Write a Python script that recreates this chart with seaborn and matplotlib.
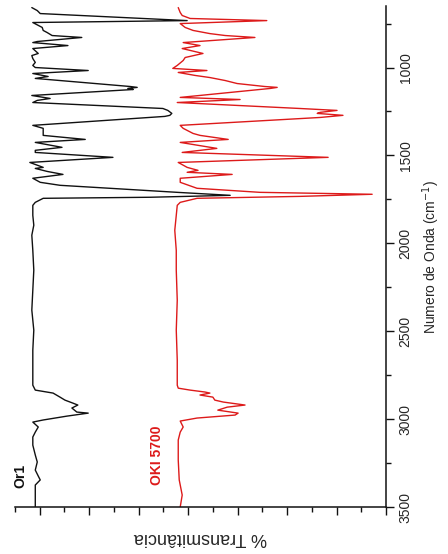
import numpy as np
import pandas as pd
import matplotlib
matplotlib.use("Agg")
import matplotlib.pyplot as plt
from matplotlib.ticker import MultipleLocator, NullFormatter
import seaborn as sns

# ---- data (wavenumber cm-1, % transmittance, offset spectra) ----
or1_wn = [659, 676, 693, 733, 744, 772, 789, 801, 818, 829, 852, 858, 875, 892, 920, 932, 949,
          971, 988, 1000, 1017, 1034, 1051, 1062, 1108, 1113, 1119, 1125, 1159, 1176, 1187, 1199,
          1233, 1244, 1261, 1272, 1278, 1329, 1346, 1386, 1409, 1426, 1454, 1471, 1483, 1511, 1540,
          1568, 1574, 1591, 1608, 1630, 1653, 1670, 1687, 1710, 1727, 1738, 1744, 1767, 1784, 1841,
          1897, 1954, 2040, 2153, 2267, 2380, 2494, 2608, 2721, 2807, 2835, 2852, 2875, 2892, 2909,
          2920, 2937, 2960, 2966, 2983, 3005, 3017, 3045, 3074, 3102, 3148, 3204, 3244, 3290, 3324,
          3346, 3375, 3432, 3500]
or1_t = [71.6, 70.5, 69.9, 40.2, 71.4, 69.5, 69.3, 68.5, 67.5, 61.5, 70.5, 71.4, 64.3, 71.4, 70.3,
         71.6, 71.4, 70.9, 71.4, 70.9, 60.2, 71.4, 68.3, 70.9, 51.7, 50.3, 52.2, 51.1, 71.6, 67.9,
         70.5, 71.4, 45.1, 44.1, 43.3, 43.7, 44.7, 71.4, 69.3, 69.3, 60.8, 70.9, 65.5, 70.9, 70.9,
         55.2, 72.0, 69.3, 70.9, 68.5, 65.3, 71.4, 69.9, 65.9, 55.8, 42.2, 31.5, 47.7, 69.3, 70.9,
         71.4, 71.4, 71.2, 71.6, 71.4, 71.2, 71.4, 71.6, 71.2, 71.4, 71.4, 71.4, 70.9, 67.3, 65.9,
         64.9, 63.3, 62.3, 63.5, 62.5, 60.2, 64.5, 69.3, 71.4, 70.3, 70.9, 71.4, 71.4, 70.9, 70.5,
         70.9, 70.3, 69.9, 70.9, 70.9, 70.9]

oki_wn = [659, 687, 704, 721, 733, 750, 772, 789, 807, 818, 829, 858, 875, 892, 920, 943, 960, 988,
          1005, 1017, 1028, 1045, 1057, 1074, 1091, 1108, 1113, 1119, 1170, 1182, 1199, 1233, 1244,
          1255, 1261, 1272, 1284, 1329, 1346, 1375, 1386, 1409, 1426, 1460, 1483, 1511, 1540, 1568,
          1585, 1596, 1608, 1630, 1653, 1687, 1710, 1721, 1733, 1744, 1767, 1784, 1841, 1926, 2040,
          2153, 2324, 2494, 2665, 2807, 2824, 2835, 2846, 2852, 2863, 2875, 2892, 2903, 2920, 2932,
          2949, 2966, 2977, 2994, 3011, 3045, 3074, 3119, 3233, 3346, 3432, 3500]
oki_t = [42.0, 41.6, 41.2, 39.6, 24.1, 41.6, 40.6, 39.0, 35.6, 32.5, 26.5, 41.0, 37.6, 41.2, 37.0,
         40.6, 41.0, 42.2, 43.1, 36.2, 42.0, 38.6, 35.6, 32.5, 30.1, 24.5, 22.0, 23.4, 41.6, 29.5,
         42.2, 17.4, 9.9, 13.3, 13.9, 8.7, 13.3, 41.6, 41.0, 39.0, 37.6, 31.9, 41.6, 34.2, 41.2,
         11.7, 42.0, 40.2, 38.0, 40.2, 31.1, 41.6, 41.6, 38.2, 25.5, 2.8, 17.4, 38.2, 41.6, 42.2,
         42.4, 42.7, 42.4, 42.4, 42.2, 42.4, 42.2, 42.2, 42.0, 39.6, 36.6, 35.6, 37.6, 35.0, 34.6,
         32.9, 28.5, 32.1, 34.0, 29.9, 30.5, 38.2, 41.6, 41.0, 41.6, 42.0, 42.0, 41.8, 41.2, 41.6]

series_names = ["Or1", "OKI 5700"]
series_colors = ["#111111", "#dd1a1a"]
label_pos = [(74.0, 3324), (46.3, 3204)]  # (transmittance, wavenumber) for series labels

wn_ticks = [1000, 1500, 2000, 2500, 3000, 3500]

# ---- figure ----
sns.set_theme(style="ticks")
plt.rcParams["font.family"] = ["Liberation Sans", "DejaVu Sans"]

fig = plt.figure(figsize=(4.48, 5.54), dpi=100)
ax = fig.add_axes([15 / 448, 1 - 507 / 554, 371 / 448, 501 / 554])

df = pd.concat([
    pd.DataFrame({"wn": or1_wn, "t": or1_t, "s": series_names[0]}),
    pd.DataFrame({"wn": oki_wn, "t": oki_t, "s": series_names[1]}),
])
for name, col in zip(series_names, series_colors):
    sub = df[df["s"] == name]
    sns.lineplot(data=sub, x="t", y="wn", orient="y", sort=False, estimator=None,
                 color=col, linewidth=1.0, ax=ax, legend=False)

for name, col, (tx, wy) in zip(series_names, series_colors, label_pos):
    ax.text(tx, wy, name, color=col, rotation=90, ha="center", va="center",
            fontsize=10, fontweight="bold")

ax.set_xlim(75, 0)
ax.set_ylim(3500, 650)

ax.xaxis.set_major_locator(MultipleLocator(10))
ax.xaxis.set_minor_locator(MultipleLocator(5))
ax.xaxis.set_major_formatter(NullFormatter())
ax.yaxis.set_major_locator(MultipleLocator(500))
ax.yaxis.set_minor_locator(MultipleLocator(250))
ax.set_yticks(wn_ticks)

ax.yaxis.tick_right()
ax.yaxis.set_label_position("right")
ax.spines["left"].set_visible(False)
ax.spines["top"].set_visible(False)
for s in ("bottom", "right"):
    ax.spines[s].set_linewidth(1.1)
    ax.spines[s].set_color("#111111")

ax.tick_params(axis="both", which="major", direction="out", length=6, width=1.0, color="#111111")
ax.tick_params(axis="both", which="minor", direction="out", length=3.5, width=1.0, color="#111111")
ax.tick_params(axis="y", which="both", left=False, right=True, labelleft=False, labelright=True,
               labelsize=10, pad=3)
ax.tick_params(axis="x", which="both", top=False, bottom=True, labelbottom=False)
for lab in ax.get_yticklabels():
    lab.set_rotation(90)
    lab.set_va("center")

ax.set_ylabel("Numero de Onda (cm$^{-1}$)", fontsize=10, rotation=90, labelpad=6)
ax.set_xlabel("% Transmitância", fontsize=13, rotation=180, labelpad=10)
ax.grid(False)

fig.savefig("out.png", dpi=100)
